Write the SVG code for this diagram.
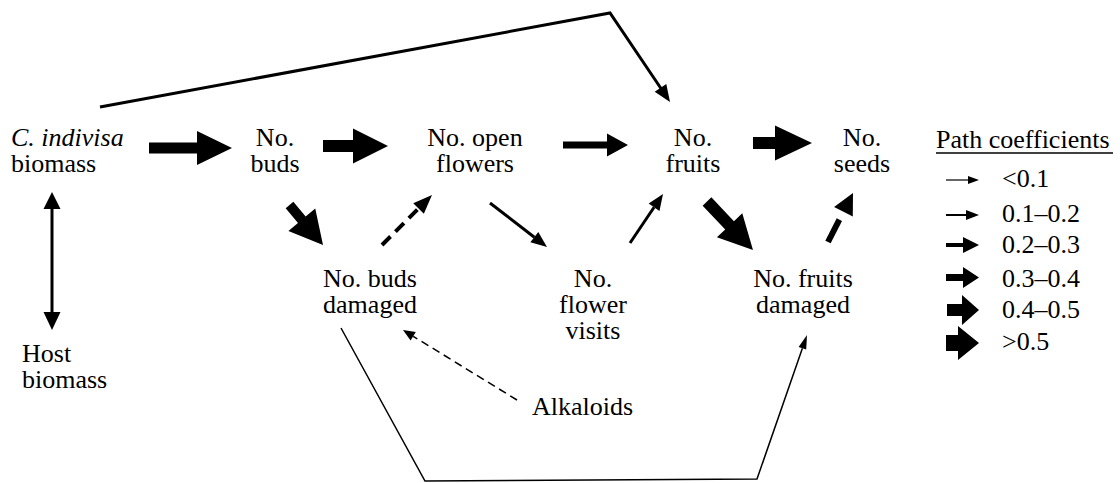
<svg xmlns="http://www.w3.org/2000/svg" width="1120" height="483" viewBox="0 0 1120 483">
<style>
  text { font-family: "Liberation Serif", Tinos, "Times New Roman", Times, "Noto Serif", "DejaVu Serif", serif; font-size: 26px; fill: #000; }
  .c { text-anchor: middle; }
  .it { font-style: italic; }
  .f { fill: #000; stroke: none; }
  .ln { fill: none; stroke: #000; stroke-linecap: butt; stroke-linejoin: miter; }
</style>
<rect width="1120" height="483" fill="#fff"/>

<g id="connectors">
  <!-- biomass -> buds -->
  <polygon class="f" transform="translate(149,148)" points="0,-5.5 48,-5.5 48,-17 83,0 48,17 48,5.5 0,5.5"/>
  <!-- buds -> open flowers -->
  <polygon class="f" transform="translate(323,146)" points="0,-6 30,-6 30,-17.5 65,0 30,17.5 30,6 0,6"/>
  <!-- open flowers -> fruits -->
  <polygon class="f" transform="translate(563,145)" points="0,-3.5 44,-3.5 44,-11.5 65,0 44,11.5 44,3.5 0,3.5"/>
  <!-- fruits -> seeds -->
  <polygon class="f" transform="translate(753,143)" points="0,-6 22,-6 22,-17.5 59,0 22,17.5 22,6 0,6"/>
  <!-- biomass -> fruits (top) -->
  <polyline class="ln" stroke-width="3" points="100,107 610,13 661,88.5"/>
  <polygon class="f" points="670,102 654.7,91.8 666.3,84"/>
  <!-- buds -> buds damaged -->
  <polygon class="f" transform="translate(289.5,205) rotate(50.05)" points="0,-5 19.2,-5 19.2,-17.5 52.2,0 19.2,17.5 19.2,5 0,5"/>
  <!-- buds damaged -> open flowers (dashed) -->
  <g transform="translate(382,245) rotate(-45)">
    <line class="ln" x1="0" y1="0" x2="51.7" y2="0" stroke-width="4" stroke-dasharray="12 7"/>
    <polygon class="f" points="51.7,-7.5 70.7,0 51.7,7.5"/>
  </g>
  <!-- open flowers -> flower visits -->
  <g transform="translate(490,203) rotate(37.66)">
    <line class="ln" x1="0" y1="0" x2="56" y2="0" stroke-width="3"/>
    <polygon class="f" points="56,-6.5 72,0 56,6.5"/>
  </g>
  <!-- flower visits -> fruits -->
  <g transform="translate(630,243) rotate(-56.04)">
    <line class="ln" x1="0" y1="0" x2="43.1" y2="0" stroke-width="3"/>
    <polygon class="f" points="43.1,-6.5 59.1,0 43.1,6.5"/>
  </g>
  <!-- fruits -> fruits damaged -->
  <polygon class="f" transform="translate(707,201.5) rotate(46.5)" points="0,-6 32.8,-6 32.8,-17.5 66.8,0 32.8,17.5 32.8,6 0,6"/>
  <!-- fruits damaged -> seeds (dashed) -->
  <g transform="translate(828,242) rotate(-62.97)">
    <line class="ln" x1="0" y1="0" x2="34" y2="0" stroke-width="6" stroke-dasharray="25 20"/>
    <polygon class="f" points="34,-10.5 55,0 34,10.5"/>
  </g>
  <!-- alkaloids -> buds damaged (dashed) -->
  <g transform="translate(517,400) rotate(-148.45)">
    <line class="ln" x1="0" y1="0" x2="121.8" y2="0" stroke-width="1.5" stroke-dasharray="8 5"/>
    <polygon class="f" points="121.8,-5 133.8,0 121.8,5"/>
  </g>
  <!-- buds damaged -> fruits damaged (bottom) -->
  <polyline class="ln" stroke-width="1.5" points="341,328 425,481 757,479 802.4,348.2"/>
  <polygon class="f" points="807,335 806.2,349.5 798.6,346.9"/>
  <!-- biomass <-> host biomass -->
  <line class="ln" x1="52" y1="207" x2="52" y2="313" stroke-width="3"/>
  <polygon class="f" points="52,192 43.5,209 60.5,209"/>
  <polygon class="f" points="52,330 43.5,312 60.5,312"/>
</g>

<g id="node-biomass">
  <text x="11" y="146" class="it">C. indivisa</text>
  <text x="11" y="172">biomass</text>
</g>
<g id="node-buds">
  <text x="275" y="146" class="c">No.</text>
  <text x="275" y="172" class="c">buds</text>
</g>
<g id="node-open-flowers">
  <text x="475" y="146" class="c">No. open</text>
  <text x="475" y="172" class="c">flowers</text>
</g>
<g id="node-fruits">
  <text x="693" y="146" class="c">No.</text>
  <text x="693" y="172" class="c">fruits</text>
</g>
<g id="node-seeds">
  <text x="862" y="146" class="c">No.</text>
  <text x="862" y="172" class="c">seeds</text>
</g>
<g id="node-buds-damaged">
  <text x="370" y="287" class="c">No. buds</text>
  <text x="370" y="313" class="c">damaged</text>
</g>
<g id="node-flower-visits">
  <text x="593" y="287" class="c">No.</text>
  <text x="593" y="313" class="c">flower</text>
  <text x="593" y="339" class="c">visits</text>
</g>
<g id="node-fruits-damaged">
  <text x="803" y="287" class="c">No. fruits</text>
  <text x="803" y="313" class="c">damaged</text>
</g>
<g id="node-host">
  <text x="22" y="362">Host</text>
  <text x="22" y="388">biomass</text>
</g>
<g id="node-alkaloids">
  <text x="532" y="415">Alkaloids</text>
</g>

<g id="legend">
  <text x="936" y="148">Path coefficients</text>
  <line class="ln" x1="936" y1="153" x2="1113" y2="153" stroke-width="1.5"/>
  <line class="ln" x1="946" y1="180" x2="968" y2="180" stroke-width="1.2"/>
  <polygon class="f" points="968,176 979,180 968,184"/>
  <line class="ln" x1="946" y1="215" x2="966" y2="215" stroke-width="2"/>
  <polygon class="f" points="966,210 979,215 966,220"/>
  <polygon class="f" points="946,243 963,243 963,237 979,245 963,253 963,247 946,247"/>
  <polygon class="f" points="946,274 963,274 963,267 979,277.5 963,288 963,281 946,281"/>
  <polygon class="f" points="947,304 962,304 962,295 979,310 962,325 962,316 947,316"/>
  <polygon class="f" points="946,335 958,335 958,326 979,343 958,360 958,351 946,351"/>
  <text x="1002" y="187">&lt;0.1</text>
  <text x="1002" y="222">0.1–0.2</text>
  <text x="1002" y="253">0.2–0.3</text>
  <text x="1002" y="287">0.3–0.4</text>
  <text x="1002" y="318">0.4–0.5</text>
  <text x="1002" y="350">&gt;0.5</text>
</g>
</svg>
